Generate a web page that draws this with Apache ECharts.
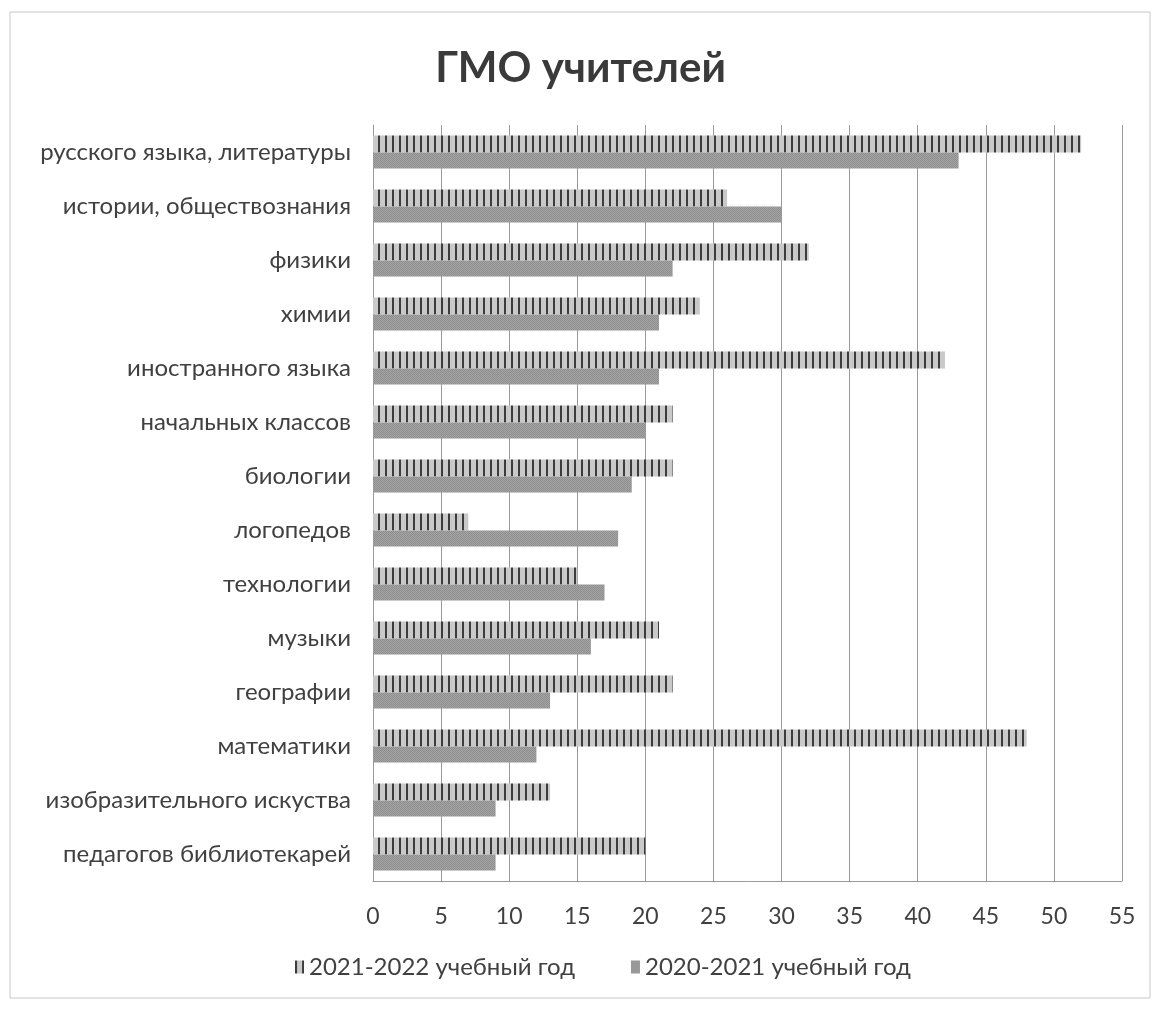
<!DOCTYPE html>
<html><head><meta charset="utf-8">
<script src="https://cdn.jsdelivr.net/npm/echarts@6/dist/echarts.min.js"></script>
<style>html,body{margin:0;padding:0;background:#fff}#c{width:1161px;height:1010px}</style>
</head><body><div id="c"></div>
<script>
const categories = ['русского языка, литературы','истории, обществознания','физики','химии','иностранного языка','начальных классов','биологии','логопедов','технологии','музыки','географии','математики','изобразительного искуства','педагогов библиотекарей'];
const values2122 = [52,26,32,24,42,22,22,7,15,21,22,48,13,20];
const values2021 = [43,30,22,21,21,20,19,18,17,16,13,12,9,9];
const seriesNames = ['2021-2022 учебный год','2020-2021 учебный год'];
const xTicks = [0,5,10,15,20,25,30,35,40,45,50,55];

function stripePattern(){
  const c = document.createElement('canvas'); c.width = 7; c.height = 8;
  const g = c.getContext('2d');
  g.fillStyle = '#c9c9c9'; g.fillRect(0,0,7,8);
  g.fillStyle = '#3c3c3c'; g.fillRect(0,0,2,8);
  return c;
}
function dotPattern(){
  const c = document.createElement('canvas'); c.width = 2; c.height = 2;
  const g = c.getContext('2d');
  g.fillStyle = '#a3a3a3'; g.fillRect(0,0,2,2);
  g.fillStyle = '#8f8f8f'; g.fillRect(0,0,1,1); g.fillRect(1,1,1,1);
  return c;
}
const stripe = {image: stripePattern(), repeat: 'repeat'};
const dots = {image: dotPattern(), repeat: 'repeat'};
const FONT = 'Lato';
const chart = echarts.init(document.getElementById('c'), null, {renderer:'canvas'});
chart.setOption({
  animation:false,
  backgroundColor:'#fff',
  title:{text:'ГМО учителей', left:'center', top:42, textStyle:{fontFamily:FONT, fontWeight:'bold', fontSize:42, color:'#3a3a3a'}},
  graphic:[{type:'rect', shape:{x:10,y:12,width:1140,height:986}, style:{fill:'none', stroke:'#c8c8c8', lineWidth:1}, silent:true}],
  legend:{bottom:26, left:290, itemGap:56, itemWidth:9, itemHeight:13, icon:'rect',
    textStyle:{fontFamily:FONT, fontSize:24, color:'#404040'},
    data:[{name:seriesNames[0], itemStyle:{color:stripe}},{name:seriesNames[1], itemStyle:{color:dots}}]},
  grid:{left:373, right:39, top:125, bottom:129},
  xAxis:{type:'value', min:0, max:55, interval:5,
    axisLine:{show:true, lineStyle:{color:'#9a9a9a'}}, axisTick:{show:false},
    axisLabel:{fontFamily:FONT, fontSize:23, color:'#404040', margin:24, formatter:v=>xTicks.includes(v)?String(v):''},
    splitLine:{show:true, lineStyle:{color:'#9a9a9a', width:1}}},
  yAxis:{type:'category', data:categories, inverse:true,
    axisLine:{show:true, lineStyle:{color:'#9a9a9a'}}, axisTick:{show:false},
    axisLabel:{fontFamily:FONT, fontSize:24, color:'#404040', margin:22}},
  series:[
    {name:seriesNames[0], type:'bar', data:values2122, barWidth:17, barGap:'0%', barCategoryGap:'37%', itemStyle:{color:stripe}},
    {name:seriesNames[1], type:'bar', data:values2021, barWidth:16, barGap:'0%', barCategoryGap:'37%', itemStyle:{color:dots}}
  ]
});
</script></body></html>
